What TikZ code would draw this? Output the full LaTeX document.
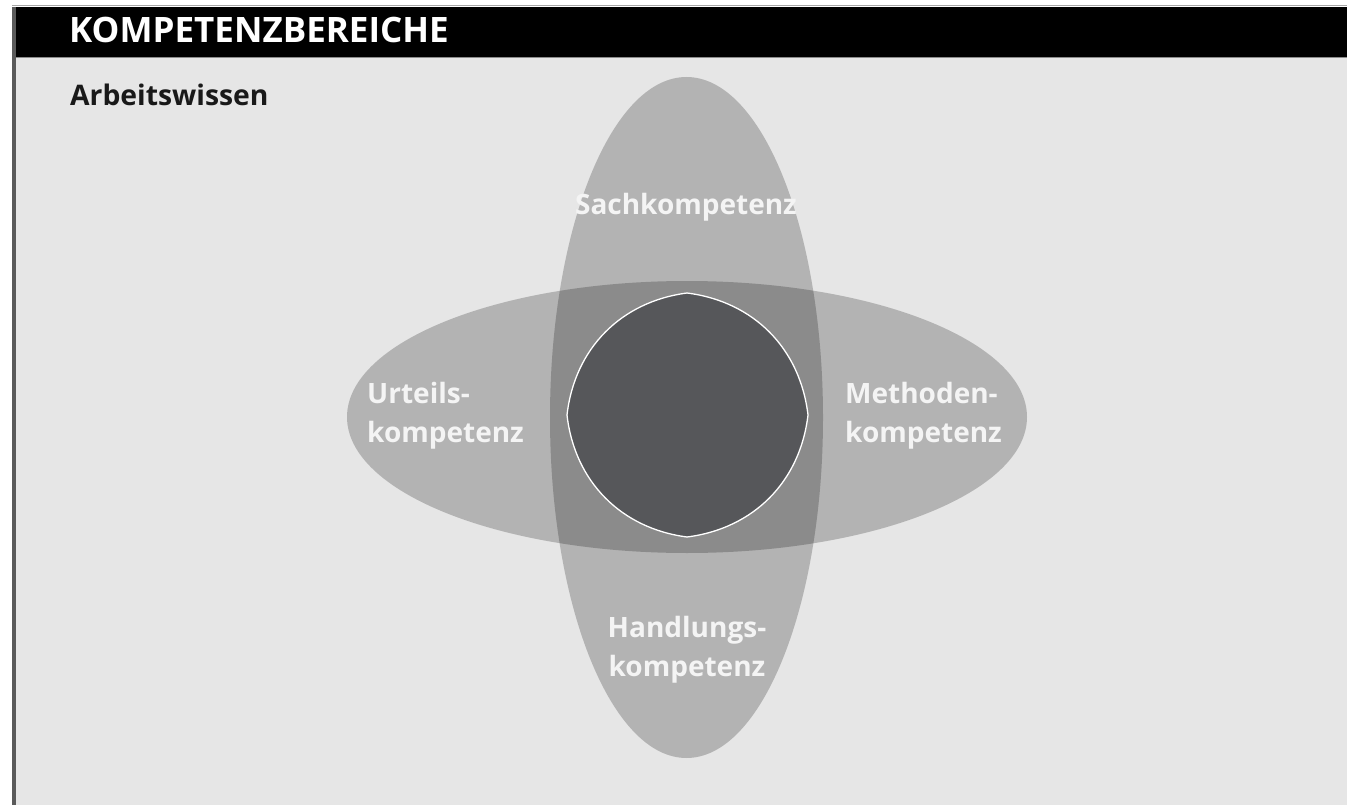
\documentclass[tikz,border=0pt]{standalone}
\usepackage{fontspec}
\setmainfont{Open Sans}
\usetikzlibrary{shapes.geometric}
\definecolor{bg}{HTML}{E6E6E6}
\definecolor{core}{HTML}{56575A}
\definecolor{edge}{HTML}{5A5A5A}
\definecolor{lbl}{HTML}{F4F4F4}
\tikzset{
  blob/.style={ellipse, inner sep=0pt, draw=none, fill=black, fill opacity=0.22},
  lab/.style={text=lbl, font=\fontsize{28}{39}\selectfont\bfseries, inner sep=0pt},
}
\begin{document}
\begin{tikzpicture}[x=1pt,y=-1pt]
\useasboundingbox (0,0) rectangle (1347,805);
\fill[white] (0,0) rectangle (1347,805);
\fill[bg] (12,57) rectangle (1347,805);
\fill[black] (12,7) rectangle (1347,57);
\draw[black!35, line width=1.2pt] (12,5.5) -- (1347,5.5);
\draw[black!45, line width=1.2pt] (12,57.5) -- (1347,57.5);
\draw[edge, line width=4pt] (13.5,7) -- (13.5,805);
\node[anchor=base west, text=white, font=\fontsize{35}{38}\selectfont\bfseries, inner sep=0pt] (title) at (69,43) {KOMPETENZBEREICHE};
\node[anchor=base west, text=black!90, font=\fontsize{28.3}{32}\selectfont\bfseries, inner sep=0pt] (sub) at (70,106) {Arbeitswissen};
\node[blob, minimum width=273pt, minimum height=681pt] (vert) at (686.5,417.5) {};
\node[blob, minimum width=680pt, minimum height=272pt] (horiz) at (687,417) {};
\coordinate (ct) at (687,293);
\coordinate (cr) at (808,415);
\coordinate (cb) at (687,537);
\coordinate (cl) at (567,415);
\draw[white, line width=1.3pt, fill=core] (ct) to[bend left=38] (cr) to[bend left=38] (cb) to[bend left=38] (cl) to[bend left=38] (ct) -- cycle;
\node[lab, anchor=base] (sach) at (686,215) {Sachkompetenz};
\node[lab, anchor=base west, align=left] (urt) at (367,442) {Urteils-\\kompetenz};
\node[lab, anchor=base west, align=left] (meth) at (845,442) {Methoden-\\kompetenz};
\node[lab, anchor=base, align=center] (hand) at (687,676) {Handlungs-\\kompetenz};
\end{tikzpicture}
\end{document}
